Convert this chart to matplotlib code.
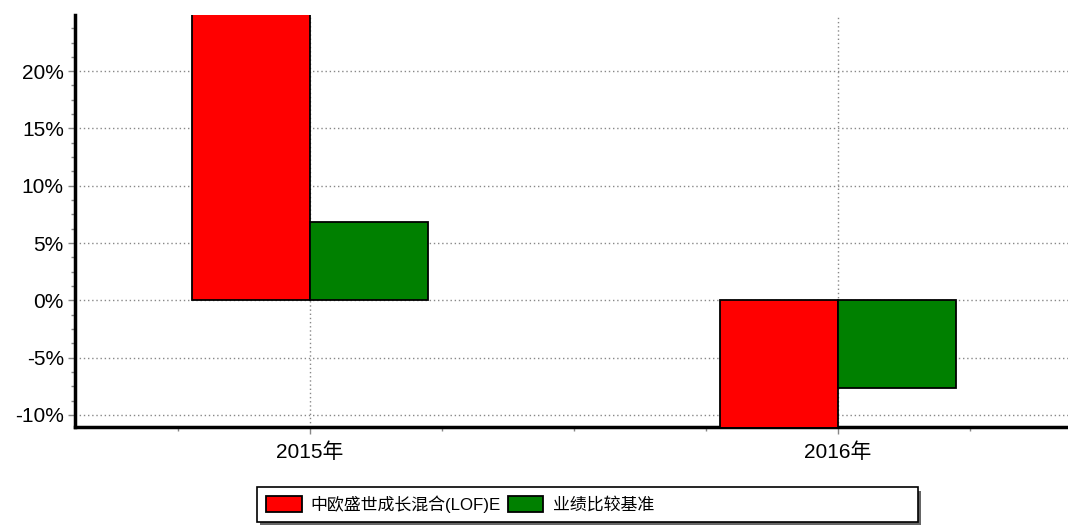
import numpy as np
import matplotlib
matplotlib.use("Agg")
import matplotlib.pyplot as plt
from matplotlib.patches import Rectangle
from matplotlib.ticker import MultipleLocator, FuncFormatter

plt.rcParams['font.family'] = ['Liberation Sans', 'Noto Sans CJK SC', 'DejaVu Sans']

years = ['2015年', '2016年']
fund_name = '中欧盛世成长混合(LOF)E'
bench_name = '业绩比较基准'
fund_returns = [30.0, -12.0]      # both run off the visible range
bench_returns = [6.85, -7.65]

fig = plt.figure(figsize=(10.68, 5.25), dpi=100)
ax = fig.add_axes([0.0702, 0.1867, 0.9298, 0.7847])

x = np.arange(len(years))
w = 0.2235
ax.bar(x - w / 2, fund_returns, w, color='#ff0000', edgecolor='black', linewidth=1.3,
       label=fund_name, zorder=3)
ax.bar(x + w / 2, bench_returns, w, color='#008000', edgecolor='black', linewidth=1.3,
       label=bench_name, zorder=3)

ax.set_ylim(-11.05, 24.9)
ax.set_xlim(-0.445, 1.436)

ax.yaxis.set_major_locator(MultipleLocator(5))
ax.yaxis.set_minor_locator(MultipleLocator(1.25))
ax.yaxis.set_major_formatter(FuncFormatter(lambda v, p: f'{v:.0f}%'))
ax.set_xticks(x)
ax.set_xticklabels(years)
ax.set_xticks(np.arange(-0.25, 1.5, 0.25), minor=True)

ax.grid(True, which='major', color='#888888', linestyle=(0, (1, 2)), linewidth=1.0, zorder=0)

for s in ['top', 'right']:
    ax.spines[s].set_visible(False)
ax.spines['left'].set_linewidth(2.5)
ax.spines['bottom'].set_linewidth(2.5)

ax.tick_params(axis='both', which='major', labelsize=15, color='#888888', length=5, width=1)
ax.tick_params(axis='both', which='minor', color='#888888', length=3, width=1)
ax.tick_params(axis='x', pad=6)
ax.tick_params(axis='y', pad=3)

# legend box (fixed size, with shadow) drawn by hand, legend entries on top
fig.patches.append(Rectangle((0.2434, -0.0010), 0.619, 0.0667, transform=fig.transFigure,
                             facecolor='#666666', edgecolor='none', zorder=1))
fig.patches.append(Rectangle((0.2406, 0.0057), 0.619, 0.0667, transform=fig.transFigure,
                             facecolor='white', edgecolor='black', linewidth=1.2, zorder=2))
leg = fig.legend(loc='center left', bbox_to_anchor=(0.249, 0.040), ncol=2, fontsize=12.2,
                 frameon=False, handlelength=2.1, handleheight=1.0, handletextpad=0.55,
                 columnspacing=0.4, borderpad=0, borderaxespad=0)
leg.set_zorder(3)

fig.savefig('out.png', dpi=100)
